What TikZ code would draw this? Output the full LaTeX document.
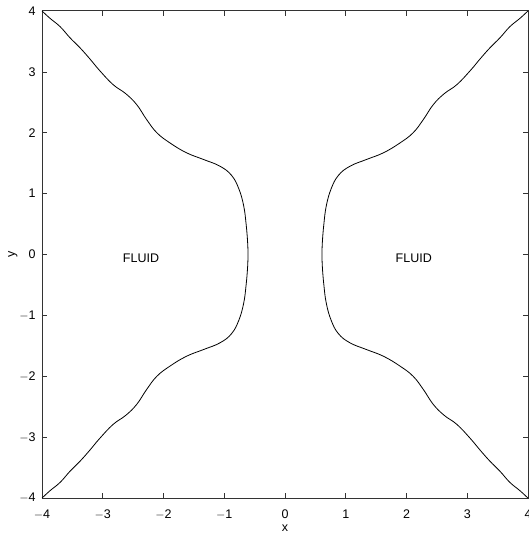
\documentclass[tikz,border=0pt]{standalone}
\usepackage{fontspec}
\setmainfont{Liberation Sans}
\begin{document}
\begin{tikzpicture}[x=60.75pt,y=60.9pt,
  lbl/.style={inner sep=0pt,font=\fontsize{12.5}{14}\selectfont},
  frame/.style={draw=black!80,line width=0.9pt},
  curve/.style={draw=black,line width=0.8pt}]
\useasboundingbox (-4.691,-4.589) rectangle (4.016,4.179);
% frame
\draw[frame] (-4,-4) rectangle (4,4);
% ticks
\foreach \t in {-3,-2,-1,0,1,2,3}{
  \draw[frame,line width=0.6pt] (\t,-4) -- ++(0,0.08);
  \draw[frame,line width=0.6pt] (\t,4) -- ++(0,-0.08);
  \draw[frame,line width=0.6pt] (-4,\t) -- ++(0.08,0);
  \draw[frame,line width=0.6pt] (4,\t) -- ++(-0.08,0);
}
\foreach \t/\s in {-4/$-$4,-3/$-$3,-2/$-$2,-1/$-$1,0/0,1/1,2/2,3/3,4/4}{
  \node[lbl] (xl\t) at (\t,-4.27) {\s};
  \node[lbl,anchor=east] (yl\t) at (-4.1,\t) {\s};
}
\node[lbl] (xlab) at (0,-4.5) {x};
\node[lbl,rotate=90] (ylab) at (-4.48,0) {y};
\node[lbl] (f1) at (-2.37,-0.06) {FLUID};
\node[lbl] (f2) at (2.12,-0.06) {FLUID};
% curves (right one and its mirror)
\foreach \sx in {1,-1}{
\begin{scope}[xscale=\sx]
\draw[curve] plot[smooth,tension=0.7] coordinates {
 (4,4) (3.87,3.88) (3.70,3.74) (3.54,3.56) (3.37,3.39) (3.21,3.21) (3.05,3.02)
 (2.83,2.79) (2.62,2.64) (2.44,2.46) (2.28,2.22) (2.11,2.0) (1.89,1.83)
 (1.62,1.67) (1.34,1.56) (1.07,1.45) (0.88,1.30) (0.76,1.08) (0.68,0.8)
 (0.64,0.5) (0.615,0.2) (0.61,0)
 (0.615,-0.2) (0.64,-0.5) (0.68,-0.8) (0.76,-1.08) (0.88,-1.30)
 (1.07,-1.45) (1.34,-1.56) (1.62,-1.67) (1.89,-1.83) (2.11,-2.0) (2.28,-2.22)
 (2.44,-2.46) (2.62,-2.64) (2.83,-2.79) (3.05,-3.02) (3.21,-3.21) (3.37,-3.39)
 (3.54,-3.56) (3.70,-3.74) (3.87,-3.88) (4,-4)};
\end{scope}}
\end{tikzpicture}
\end{document}
